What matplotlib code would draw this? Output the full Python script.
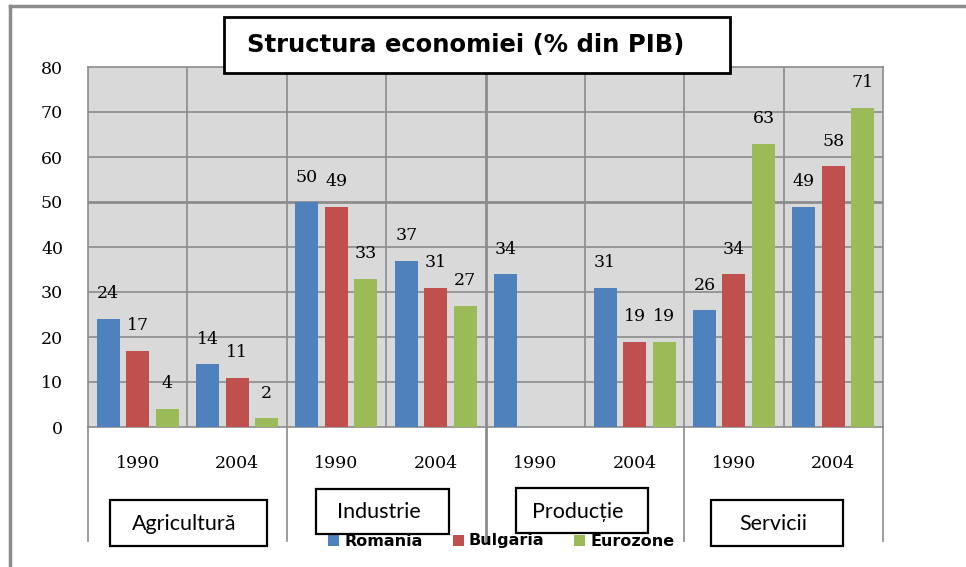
import numpy as np
import matplotlib
matplotlib.use("Agg")
import matplotlib.pyplot as plt
from matplotlib.patches import Rectangle
from matplotlib.lines import Line2D

# ---- data ----
categories = ['Agricultură', 'Industrie', 'Producție', 'Servicii']
years = ['1990', '2004', '1990', '2004', '1990', '2004', '1990', '2004']
series_names = ['Romania', 'Bulgaria', 'Eurozone']
romania = [24, 14, 50, 37, 34, 31, 26, 49]
bulgaria = [17, 11, 49, 31, np.nan, 19, 34, 58]
eurozone = [4, 2, 33, 27, np.nan, 19, 63, 71]
yticks = [0, 10, 20, 30, 40, 50, 60, 70, 80]
title = 'Structura economiei (% din PIB)'

colors = ['#4F81BD', '#C0504D', '#9BBB59']
W, H = 966, 567
fig = plt.figure(figsize=(W / 100, H / 100), dpi=100)
fig.patch.set_facecolor('white')

def fx(x):
    return x / W

def fy(y):
    return 1 - y / H

L, R, T, B = 88, 883, 67, 427
ax = fig.add_axes([fx(L), fy(B), fx(R) - fx(L), fy(T) - fy(B)])
ax.set_facecolor('#D9D9D9')
grid_c = '#8C8C8C'
for s in ax.spines.values():
    s.set_color(grid_c)
    s.set_linewidth(1.2)

n = len(years)
x = np.arange(n)
off = 0.297
bw = 0.232
for i, (vals, c) in enumerate(zip([romania, bulgaria, eurozone], colors)):
    xs = x + (i - 1) * off
    ax.bar(xs, vals, width=bw, color=c, zorder=3)
    for xi, v in zip(xs, vals):
        if not np.isnan(v):
            ax.annotate(f'{v:g}', (xi, v), xytext=(0, 18), textcoords='offset points',
                        ha='center', va='center', fontsize=12.5,
                        family='DejaVu Serif', color='black', zorder=4)

ax.set_xlim(-0.5, n - 0.5)
ax.set_ylim(0, 80)
ax.set_yticks(yticks)
ax.set_yticklabels([str(t) for t in yticks], family='DejaVu Serif', fontsize=12.5)
ax.tick_params(axis='y', length=0, pad=18)
ax.set_xticks([])
for t in yticks[1:-1]:
    lw = 2.0 if t == 50 else 1.2
    ax.axhline(t, color=grid_c, lw=lw, zorder=1)
for k in range(1, n):
    lw = 2.0 if k == 4 else 1.2
    ax.axvline(k - 0.5, color=grid_c, lw=lw, zorder=1)

# year labels
for xi, yr in zip(x, years):
    ax.text(xi, -8.0, yr, ha='center', va='center', fontsize=12.5,
            family='DejaVu Serif', color='black')

# category separators extending below the axis
for k in range(0, n + 1, 2):
    lw = 2.0 if k == 4 else 1.2
    ax.plot([k - 0.5, k - 0.5], [0, -25.3], color=grid_c, lw=lw, clip_on=False, zorder=1)

# legend (partially covered by boxes)
leg_items = [(328, 'Romania'), (453, 'Bulgaria'), (574, 'Eurozone')]
for (lx, name), c in zip(leg_items, colors):
    fig.patches.append(Rectangle((fx(lx), fy(546)), fx(11), 11 / H, transform=fig.transFigure,
                                 facecolor=c, edgecolor='none', zorder=5))
    fig.text(fx(lx + 16), fy(541), name, ha='left', va='center', fontsize=11.5,
             fontweight='bold', family='DejaVu Sans', color='black', zorder=5)

# category boxes
boxes = [(110, 500, 267, 546), (316, 489, 449, 534), (516, 488, 648, 533), (711, 500, 843, 546)]
for (x0, y0, x1, y1), cat in zip(boxes, categories):
    fig.patches.append(Rectangle((fx(x0), fy(y1)), fx(x1 - x0), (y1 - y0) / H,
                                 transform=fig.transFigure, facecolor='white',
                                 edgecolor='black', lw=1.6, zorder=10))
    fig.text(fx((x0 + x1) / 2 - 4), fy((y0 + y1) / 2 + 1), cat, ha='center', va='center',
             fontsize=15.5, family=['Lato', 'DejaVu Sans'], color='black', zorder=11)

# title box
fig.patches.append(Rectangle((fx(224), fy(73)), fx(730 - 224), (73 - 17) / H,
                             transform=fig.transFigure, facecolor='white',
                             edgecolor='black', lw=2.0, zorder=10))
fig.text(fx(466), fy(45), title, ha='center', va='center', fontsize=17.5,
         fontweight='bold', family='DejaVu Sans', color='black', zorder=11)

# outer frame (top and left)
fig.lines.append(Line2D([fx(10), fx(966)], [fy(6), fy(6)], transform=fig.transFigure,
                        color='#8C8C8C', lw=2.5, zorder=12))
fig.lines.append(Line2D([fx(10), fx(10)], [fy(6), fy(567)], transform=fig.transFigure,
                        color='#8C8C8C', lw=2.5, zorder=12))

fig.savefig('out.png', dpi=100, facecolor='white')
